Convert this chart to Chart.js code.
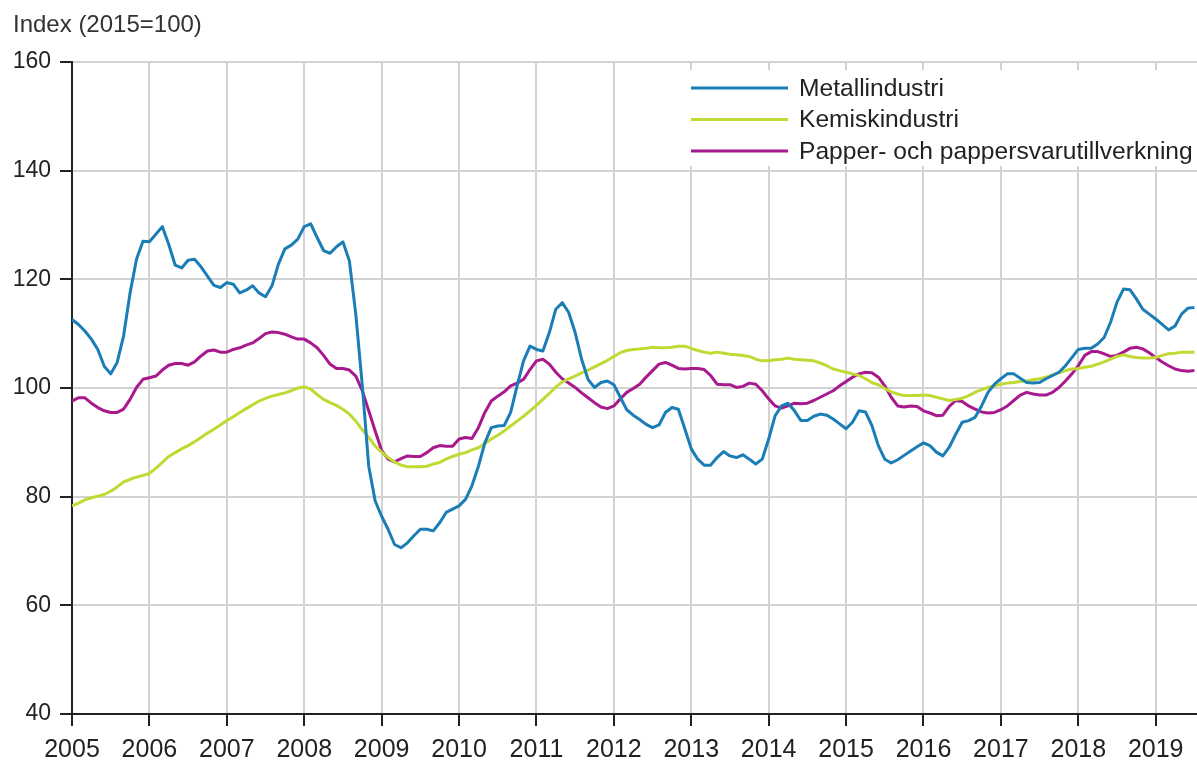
<!DOCTYPE html>
<html>
<head>
<meta charset="utf-8">
<script src="https://cdn.jsdelivr.net/npm/chart.js@4"></script>
<style>
  html, body { margin: 0; padding: 0; background: #fff; }
</style>
</head>
<body>
<canvas id="myChart" width="1197" height="762"></canvas>
<script>
// monthly index values, Jan 2005 .. Jul 2019 (one row per year)
const years = ['2005', '2006', '2007', '2008', '2009', '2010', '2011', '2012',
  '2013', '2014', '2015', '2016', '2017', '2018', '2019'];
const yTicks = [40, 60, 80, 100, 120, 140, 160];

const metall = [
  112.6, 111.7, 110.5, 109.0, 107.1, 104.0, 102.6, 104.7, 109.6, 117.5, 123.7, 127.0,
  126.9, 128.3, 129.7, 126.4, 122.6, 122.1, 123.5, 123.7, 122.3, 120.6, 118.9, 118.5,
  119.4, 119.1, 117.5, 118.0, 118.8, 117.5, 116.8, 118.8, 122.8, 125.6, 126.3, 127.4,
  129.7, 130.2, 127.7, 125.3, 124.8, 126.0, 126.9, 123.4, 113.5, 100.5, 85.6, 79.2,
  76.4, 74.0, 71.2, 70.6, 71.5, 72.8, 74.0, 74.0, 73.7, 75.2, 77.1, 77.7,
  78.3, 79.5, 82.0, 85.6, 89.9, 92.7, 93.0, 93.1, 95.5, 100.4, 105.0, 107.7,
  107.1, 106.8, 110.2, 114.5, 115.7, 113.9, 110.2, 105.3, 101.6, 100.1, 101.0, 101.3,
  100.6, 98.3, 96.0, 95.0, 94.2, 93.3, 92.7, 93.2, 95.5, 96.4, 96.1, 92.5,
  88.8, 86.9, 85.8, 85.8, 87.2, 88.3, 87.5, 87.2, 87.7, 86.9, 86.0, 86.9,
  90.6, 94.9, 96.7, 97.2, 95.8, 94.0, 94.0, 94.8, 95.2, 95.0, 94.3, 93.4,
  92.5, 93.7, 95.8, 95.6, 93.1, 89.4, 86.9, 86.2, 86.8, 87.6, 88.4, 89.2,
  89.9, 89.4, 88.2, 87.5, 89.1, 91.5, 93.7, 94.0, 94.6, 96.7, 99.2, 100.7,
  101.7, 102.6, 102.6, 101.8, 101.0, 100.9, 101.0, 101.7, 102.3, 102.9, 104.1, 105.6,
  107.1, 107.3, 107.3, 108.1, 109.3, 112.1, 115.8, 118.2, 118.1, 116.4, 114.5, 113.6,
  112.7, 111.7, 110.7, 111.4, 113.6, 114.7, 114.8
];

const kemi = [
  78.3, 78.8, 79.4, 79.8, 80.1, 80.4, 81.0, 81.8, 82.7, 83.2, 83.6, 83.9,
  84.3, 85.2, 86.3, 87.4, 88.1, 88.8, 89.4, 90.1, 90.9, 91.7, 92.4, 93.2,
  94.0, 94.7, 95.5, 96.2, 96.9, 97.6, 98.1, 98.5, 98.8, 99.1, 99.5, 100.0,
  100.2, 99.8, 98.8, 97.9, 97.3, 96.8, 96.1, 95.2, 93.9, 92.3, 90.9, 89.3,
  88.2, 87.2, 86.4, 85.8, 85.5, 85.5, 85.5, 85.6, 86.0, 86.3, 86.9, 87.4,
  87.8, 88.1, 88.6, 89.0, 89.8, 90.6, 91.3, 92.1, 93.0, 93.9, 94.8, 95.8,
  96.8, 97.9, 99.0, 100.2, 101.1, 101.7, 102.2, 102.8, 103.3, 103.9, 104.5, 105.1,
  105.8, 106.5, 106.9, 107.1, 107.2, 107.3, 107.5, 107.4, 107.4, 107.5, 107.7, 107.7,
  107.3, 106.9, 106.6, 106.4, 106.6, 106.4, 106.2, 106.1, 106.0, 105.8, 105.3, 105.0,
  105.0, 105.2, 105.3, 105.5, 105.3, 105.2, 105.1, 105.0, 104.6, 104.1, 103.5, 103.2,
  102.9, 102.6, 102.3, 101.7, 101.0, 100.6, 99.9, 99.3, 98.9, 98.6, 98.6, 98.6,
  98.7, 98.6, 98.3, 98.0, 97.7, 97.9, 98.1, 98.6, 99.2, 99.7, 100.1, 100.4,
  100.7, 100.9, 101.0, 101.2, 101.3, 101.5, 101.7, 102.0, 102.4, 102.8, 103.2, 103.5,
  103.6, 103.8, 104.0, 104.4, 104.8, 105.3, 105.8, 106.1, 105.8, 105.6, 105.5, 105.5,
  105.6, 106.0, 106.3, 106.4, 106.6, 106.6, 106.6
];

const papper = [
  97.6, 98.2, 98.2, 97.2, 96.4, 95.8, 95.5, 95.5, 96.1, 97.9, 100.1, 101.6,
  101.9, 102.2, 103.3, 104.2, 104.5, 104.5, 104.2, 104.8, 105.9, 106.8, 107.0, 106.6,
  106.6, 107.1, 107.4, 107.9, 108.3, 109.1, 110.0, 110.3, 110.2, 109.9, 109.4, 109.0,
  109.0, 108.3, 107.4, 106.0, 104.4, 103.6, 103.6, 103.3, 102.2, 99.5, 95.8, 92.1,
  88.5, 86.9, 86.4, 87.0, 87.5, 87.4, 87.4, 88.1, 89.0, 89.4, 89.3, 89.3,
  90.6, 90.9, 90.7, 92.7, 95.5, 97.6, 98.5, 99.3, 100.4, 100.9, 101.6, 103.4,
  105.0, 105.3, 104.4, 102.9, 101.7, 100.9, 100.1, 99.1, 98.2, 97.3, 96.5, 96.2,
  96.7, 98.0, 99.2, 99.9, 100.7, 102.0, 103.2, 104.4, 104.7, 104.2, 103.6, 103.5,
  103.6, 103.6, 103.4, 102.3, 100.7, 100.6, 100.6, 100.1, 100.3, 100.9, 100.7, 99.5,
  98.0, 96.7, 96.3, 96.7, 97.2, 97.1, 97.2, 97.7, 98.3, 98.9, 99.5, 100.4,
  101.2, 102.0, 102.6, 102.9, 102.8, 102.0, 100.4, 98.3, 96.7, 96.5, 96.7, 96.6,
  95.8, 95.4, 94.9, 95.0, 96.6, 97.7, 97.5, 96.7, 96.1, 95.6, 95.4, 95.5,
  96.0, 96.7, 97.7, 98.7, 99.2, 98.9, 98.7, 98.7, 99.2, 100.1, 101.3, 102.6,
  104.1, 106.0, 106.7, 106.7, 106.3, 105.8, 106.0, 106.6, 107.3, 107.5, 107.2, 106.5,
  105.6, 104.8, 104.1, 103.5, 103.2, 103.1, 103.2
];

const toPoints = arr => arr.map((v, i) => ({ x: i, y: v }));

Chart.defaults.font.family = '"Liberation Sans", Arial, sans-serif';
Chart.defaults.color = '#222';

// title text above the y axis
const titleText = {
  id: 'titleText',
  afterDraw(chart) {
    const ctx = chart.ctx;
    ctx.save();
    ctx.fillStyle = '#333';
    ctx.font = '24px "Liberation Sans", Arial, sans-serif';
    ctx.textBaseline = 'alphabetic';
    ctx.fillText('Index (2015=100)', 13, 32);
    ctx.restore();
  }
};

// legend in a white box at the top right of the plot
const legendBox = {
  id: 'legendBox',
  afterDraw(chart) {
    const ctx = chart.ctx;
    ctx.save();
    ctx.fillStyle = '#fff';
    ctx.fillRect(684, 70, 520, 96);
    chart.data.datasets.forEach((ds, i) => {
      const y = 88 + i * 31.5;
      ctx.strokeStyle = ds.borderColor;
      ctx.lineWidth = 3;
      ctx.beginPath();
      ctx.moveTo(691, y);
      ctx.lineTo(788, y);
      ctx.stroke();
      ctx.fillStyle = '#222';
      ctx.font = '24.6px "Liberation Sans", Arial, sans-serif';
      ctx.textBaseline = 'middle';
      ctx.fillText(ds.label, 799, y + 1);
    });
    ctx.restore();
  }
};

const ctx = document.getElementById('myChart');

new Chart(ctx, {
  type: 'line',
  data: {
    datasets: [{
      label: 'Metallindustri',
      data: toPoints(metall),
      borderColor: '#1a7db6',
      borderWidth: 3,
    },
    {
      label: 'Kemiskindustri',
      data: toPoints(kemi),
      borderColor: '#c2d934',
      borderWidth: 3,
    },
    {
      label: 'Papper- och pappersvarutillverkning',
      data: toPoints(papper),
      borderColor: '#a8198d',
      borderWidth: 3,
    }]
  },
  options: {
    responsive: false,
    devicePixelRatio: 1,
    animation: false,
    layout: { padding: { top: 62, right: 0, left: 0, bottom: 0 } },
    elements: {
      point: { radius: 0 },
      line: { tension: 0, borderJoinStyle: 'round' }
    },
    plugins: {
      legend: { display: false },
      tooltip: { enabled: false }
    },
    scales: {
      x: {
        type: 'linear',
        min: 0,
        max: 174.4,
        afterBuildTicks: scale => {
          scale.ticks = years.map((y, i) => ({ value: i * 12 }));
        },
        afterFit: scale => { scale.height = 48; },
        ticks: {
          autoSkip: false,
          maxRotation: 0,
          padding: 9,
          font: { size: 25 },
          color: '#222',
          callback: value => years[Math.round(value / 12)]
        },
        grid: {
          color: '#d2d2d2',
          lineWidth: 2,
          tickColor: '#222',
          tickLength: 12,
          tickWidth: 2
        },
        border: { color: '#222', width: 2 }
      },
      y: {
        min: 40,
        max: 160,
        afterBuildTicks: scale => {
          scale.ticks = yTicks.map(v => ({ value: v }));
        },
        afterFit: scale => { scale.width = 72; },
        ticks: {
          padding: 9,
          font: { size: 23 },
          color: '#222'
        },
        grid: {
          color: '#d2d2d2',
          lineWidth: 2,
          tickColor: '#222',
          tickLength: 12,
          tickWidth: 2
        },
        border: { color: '#222', width: 2 }
      }
    }
  },
  plugins: [titleText, legendBox]
});
</script>
</body>
</html>
